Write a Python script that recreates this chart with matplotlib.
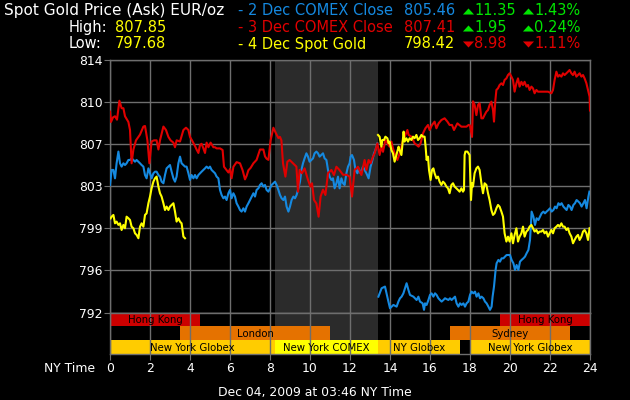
import matplotlib
matplotlib.use("Agg")
import numpy as np
import matplotlib.pyplot as plt
from matplotlib.lines import Line2D

plt.rcParams["font.family"] = ["DejaVu Sans"]

# ── data ─────────────────────────────────────────────────────────────────────
# 2 Dec COMEX close (blue) – two pieces, gap at the COMEX close
blue_h1 = [0.0, 0.08, 0.17, 0.25, 0.33, 0.42, 0.5, 0.58, 0.67, 0.75, 0.83, 0.92, 1.0, 1.08, 1.17,
           1.25, 1.33, 1.42, 1.5, 1.58, 1.67, 1.75, 1.83, 1.92, 2.0, 2.08, 2.17, 2.25, 2.33, 2.42,
           2.5, 2.58, 2.67, 2.75, 2.83, 2.92, 3.0, 3.08, 3.17, 3.25, 3.33, 3.42, 3.5, 3.58, 3.67,
           3.75, 3.83, 3.92, 4.0, 4.08, 4.17, 4.25, 4.33, 4.42, 4.5, 4.58, 4.67, 4.75, 4.83, 4.92,
           5.0, 5.08, 5.17, 5.25, 5.33, 5.42, 5.5, 5.58, 5.67, 5.75, 5.83, 5.92, 6.0, 6.08, 6.17,
           6.25, 6.33, 6.42, 6.5, 6.58, 6.67, 6.75, 6.83, 6.92, 7.0, 7.08, 7.17, 7.25, 7.33, 7.42,
           7.5, 7.58, 7.67, 7.75, 7.83, 7.92, 8.0, 8.08, 8.17, 8.25, 8.33, 8.42, 8.5, 8.58, 8.67,
           8.75, 8.83, 8.92, 9.0, 9.08, 9.17, 9.25, 9.33, 9.42, 9.5, 9.57, 9.65, 9.73, 9.82, 9.9,
           9.98, 10.07, 10.15, 10.23, 10.32, 10.4, 10.48, 10.57, 10.65, 10.73, 10.82, 10.9, 10.98,
           11.07, 11.15, 11.23, 11.32, 11.4, 11.48, 11.57, 11.65, 11.73, 11.82, 11.9, 11.98, 12.03,
           12.1, 12.2, 12.27, 12.37, 12.43, 12.53, 12.65, 12.73, 12.82, 12.93, 13.03, 13.1, 13.2,
           13.27, 13.37]
blue_v1 = [803.11, 804.42, 804.42, 803.69, 805.0, 806.02, 805.0, 804.71, 805.0, 804.85, 805.0,
           805.29, 805.29, 805.43, 805.29, 805.14, 805.29, 805.14, 805.0, 804.85, 804.71, 803.98,
           803.69, 804.56, 804.13, 803.69, 804.13, 804.27, 804.27, 803.98, 803.84, 803.4, 803.26,
           803.98, 804.56, 804.71, 804.85, 804.27, 803.69, 803.4, 803.84, 805.0, 805.58, 805.0,
           804.85, 804.71, 804.71, 804.13, 803.55, 803.98, 803.69, 803.98, 803.69, 803.98, 804.13,
           804.27, 804.42, 804.56, 804.71, 804.56, 804.71, 804.42, 804.27, 804.13, 803.84, 803.69,
           802.68, 802.24, 801.95, 802.1, 801.8, 802.39, 802.68, 801.95, 802.39, 802.1, 801.52,
           801.23, 800.93, 800.79, 801.08, 800.79, 801.23, 801.52, 801.8, 802.1, 802.39, 802.1,
           802.68, 802.82, 803.11, 803.26, 802.97, 803.11, 802.68, 802.53, 802.82, 803.11, 803.26,
           803.4, 803.11, 802.68, 802.24, 801.95, 801.8, 802.1, 801.23, 800.79, 801.23, 801.8,
           802.1, 801.95, 802.24, 802.82, 803.4, 804.42, 805.0, 805.43, 805.87, 805.58, 805.14,
           805.29, 805.43, 805.87, 806.02, 805.87, 805.58, 805.73, 805.87, 805.43, 805.29, 804.42,
           803.84, 803.55, 803.69, 802.82, 803.26, 803.84, 802.82, 803.69, 803.26, 803.11, 804.13,
           804.71, 805.0, 805.58, 805.72, 805.29, 804.42, 804.13, 804.56, 804.13, 804.71, 804.42,
           804.13, 803.69, 804.71, 805.14, 805.87, 806.16, 806.74]
blue_h2 = [13.42, 13.58, 13.75, 13.92, 14.0, 14.17, 14.33, 14.42, 14.5, 14.58, 14.67, 14.75, 14.83,
           14.92, 15.0, 15.17, 15.33, 15.42, 15.5, 15.63, 15.7, 15.75, 15.83, 15.92, 16.0, 16.08,
           16.17, 16.25, 16.33, 16.42, 16.5, 16.58, 16.67, 16.75, 16.92, 17.0, 17.08, 17.17, 17.25,
           17.33, 17.42, 17.5, 17.58, 17.67, 17.75, 17.83, 17.92, 18.0, 18.08, 18.17, 18.25, 18.33,
           18.42, 18.5, 18.58, 18.67, 18.75, 18.83, 18.92, 19.0, 19.08, 19.13, 19.2, 19.28, 19.33,
           19.42, 19.5, 19.58, 19.67, 19.75, 19.83, 19.92, 20.0, 20.08, 20.17, 20.25, 20.33, 20.42,
           20.5, 20.58, 20.67, 20.75, 20.83, 20.92, 21.0, 21.05, 21.08, 21.17, 21.25, 21.33, 21.42,
           21.5, 21.58, 21.67, 21.75, 21.83, 21.92, 22.0, 22.08, 22.17, 22.25, 22.33, 22.42, 22.5,
           22.58, 22.67, 22.75, 22.83, 22.92, 23.0, 23.08, 23.17, 23.25, 23.33, 23.42, 23.5, 23.58,
           23.67, 23.75, 23.83, 23.92, 23.97]
blue_v2 = [793.38, 794.11, 794.26, 792.95, 792.37, 792.66, 792.51, 792.95, 793.24, 793.38, 793.67,
           794.11, 794.55, 793.97, 793.53, 793.38, 793.09, 793.38, 792.95, 792.8, 792.23, 792.8,
           792.66, 793.09, 793.53, 793.67, 793.38, 793.67, 793.53, 793.24, 793.09, 792.95, 793.09,
           793.24, 793.09, 793.24, 793.09, 793.24, 793.38, 792.8, 792.51, 792.8, 792.66, 792.8,
           792.51, 792.8, 792.95, 793.53, 793.82, 793.67, 793.82, 793.38, 793.67, 793.24, 793.38,
           793.24, 792.95, 792.8, 792.51, 792.23, 792.51, 793.38, 794.26, 795.71, 796.29, 796.58,
           796.43, 796.72, 796.72, 796.87, 797.01, 797.01, 797.01, 796.58, 796.29, 795.71, 796.14,
           795.71, 796.43, 796.58, 796.72, 796.87, 797.16, 797.45, 798.32, 799.77, 800.79, 800.35,
           799.63, 800.21, 800.06, 800.35, 800.64, 800.79, 800.64, 800.79, 800.93, 801.08, 800.79,
           800.93, 801.23, 801.08, 801.52, 801.37, 801.52, 801.23, 801.08, 800.93, 801.37, 801.23,
           800.93, 801.37, 801.52, 801.8, 801.66, 801.52, 801.23, 801.52, 801.8, 801.08, 802.1,
           802.53]

# 3 Dec COMEX close (red)
red_h = [0.0, 0.05, 0.15, 0.25, 0.35, 0.47, 0.58, 0.67, 0.75, 0.92, 1.0, 1.08, 1.17, 1.3, 1.5,
         1.67, 1.75, 1.87, 1.97, 2.08, 2.2, 2.33, 2.42, 2.5, 2.67, 2.8, 2.92, 3.03, 3.17, 3.25,
         3.33, 3.5, 3.67, 3.8, 3.92, 4.0, 4.13, 4.25, 4.33, 4.42, 4.5, 4.58, 4.67, 4.75, 4.83,
         4.92, 5.03, 5.17, 5.25, 5.33, 5.5, 5.63, 5.7, 5.83, 5.92, 6.0, 6.08, 6.17, 6.33, 6.5,
         6.63, 6.75, 6.83, 6.92, 7.03, 7.17, 7.33, 7.5, 7.67, 7.75, 7.83, 7.92, 8.03, 8.17, 8.3,
         8.42, 8.5, 8.57, 8.65, 8.77, 8.87, 8.98, 9.15, 9.32, 9.4, 9.48, 9.6, 9.73, 9.9, 10.02,
         10.1, 10.2, 10.32, 10.43, 10.53, 10.65, 10.77, 10.9, 11.07, 11.2, 11.32, 11.48, 11.65,
         11.82, 11.98, 12.1, 12.23, 12.4, 12.57, 12.73, 12.82, 12.93, 13.03, 13.15, 13.23, 13.37,
         13.48, 13.57, 13.65, 13.77, 13.87, 13.98, 14.07, 14.15, 14.23, 14.37, 14.43, 14.53,
         14.65, 14.77, 14.87, 14.93, 15.07, 15.23, 15.43, 15.53, 15.65, 15.77, 15.9, 15.98, 16.1,
         16.23, 16.32, 16.43, 16.57, 16.73, 16.87, 16.98, 17.1, 17.2, 17.37, 17.57, 17.82, 17.93,
         18.0, 18.1, 18.15, 18.23, 18.32, 18.4, 18.48, 18.57, 18.65, 18.73, 18.82, 18.9, 18.98,
         19.07, 19.15, 19.2, 19.27, 19.32, 19.4, 19.48, 19.57, 19.65, 19.73, 19.82, 19.9, 19.98,
         20.07, 20.15, 20.23, 20.32, 20.4, 20.48, 20.57, 20.65, 20.73, 20.82, 20.9, 20.98, 21.07,
         21.15, 21.23, 21.32, 21.4, 21.57, 21.73, 21.9, 22.07, 22.15, 22.23, 22.32, 22.4, 22.48,
         22.57, 22.65, 22.73, 22.82, 22.9, 22.98, 23.07, 23.15, 23.23, 23.32, 23.4, 23.48, 23.57,
         23.65, 23.73, 23.82, 23.9, 23.98, 24.0]
red_v = [809.5, 808.6, 809.0, 809.1, 808.8, 810.45, 809.8, 809.8, 809.1, 808.6, 807.9, 805.0,
         806.2, 807.0, 807.5, 808.2, 808.25, 807.0, 805.0, 806.9, 807.0, 807.0, 806.2, 807.0,
         808.2, 807.9, 807.3, 807.0, 806.8, 806.4, 807.0, 806.9, 807.9, 808.1, 807.9, 807.3,
         806.9, 806.5, 806.2, 805.9, 806.6, 806.7, 806.3, 805.9, 806.8, 806.4, 806.8, 806.4,
         806.4, 806.3, 806.3, 806.16, 804.7, 804.4, 804.2, 804.5, 803.7, 804.7, 805.1, 805.0,
         804.4, 803.6, 803.9, 804.4, 804.6, 805.0, 805.3, 806.2, 806.2, 805.6, 805.4, 805.3,
         807.0, 808.1, 807.6, 807.2, 807.3, 807.0, 805.0, 803.84, 805.14, 805.29, 805.0, 804.71,
         802.53, 804.42, 804.13, 804.56, 803.55, 802.97, 803.26, 801.8, 801.5, 800.35, 802.1,
         802.7, 802.24, 804.13, 804.42, 803.98, 804.7, 804.4, 804.0, 804.0, 803.84, 802.1,
         804.42, 804.7, 803.98, 805.29, 804.42, 805.29, 805.0, 805.58, 805.87, 806.74, 805.72,
         806.45, 806.0, 807.03, 806.74, 806.45, 806.89, 806.3, 805.87, 805.29, 805.58, 806.16,
         807.03, 807.47, 807.9, 807.47, 807.32, 806.74, 806.45, 806.74, 807.61, 808.05, 808.34,
         807.9, 808.34, 808.63, 808.05, 808.48, 808.77, 808.92, 808.63, 808.34, 808.34, 807.9,
         808.48, 808.19, 808.19, 808.34, 808.3, 807.3, 810.4, 810.1, 809.2, 810.08, 810.23,
         808.92, 808.92, 809.21, 809.5, 809.64, 810.08, 810.37, 809.64, 808.63, 810.52, 811.39,
         811.53, 811.82, 811.97, 811.82, 812.26, 812.4, 812.69, 812.84, 812.55, 812.26, 811.24,
         811.97, 812.4, 811.68, 812.1, 811.82, 812.1, 811.68, 811.82, 811.39, 811.68, 811.53,
         811.1, 811.39, 811.24, 811.24, 811.24, 811.24, 811.1, 811.39, 812.26, 812.98, 812.55,
         812.69, 812.55, 812.84, 812.69, 812.84, 812.98, 813.13, 812.84, 812.69, 812.98, 812.55,
         812.69, 812.84, 812.55, 812.69, 812.4, 811.97, 811.39, 810.8, 809.6]

# 4 Dec spot gold (yellow) – two pieces
yellow_h1 = [0.03, 0.08, 0.17, 0.25, 0.33, 0.42, 0.5, 0.58, 0.67, 0.75, 0.83, 0.92, 1.0, 1.08,
             1.17, 1.25, 1.33, 1.42, 1.5, 1.58, 1.67, 1.75, 1.83, 1.92, 2.0, 2.08, 2.17, 2.25,
             2.33, 2.42, 2.5, 2.58, 2.67, 2.75, 2.83, 2.92, 3.0, 3.08, 3.17, 3.25, 3.33, 3.42,
             3.5, 3.58, 3.67, 3.75]
yellow_v1 = [800.2, 800.35, 800.5, 799.77, 799.92, 799.63, 799.77, 799.19, 799.63, 799.34,
             800.35, 800.21, 800.06, 799.48, 799.34, 798.9, 798.76, 798.47, 799.48, 799.77,
             799.48, 800.5, 800.64, 801.52, 802.1, 802.82, 803.4, 803.69, 803.84, 802.97, 802.39,
             802.1, 801.52, 800.93, 801.23, 800.93, 801.23, 801.37, 801.52, 800.79, 799.92, 800.21,
             799.92, 799.77, 798.61, 798.47]
yellow_h2 = [13.4, 13.48, 13.57, 13.62, 13.7, 13.77, 13.87, 13.93, 13.98, 14.07, 14.15, 14.23,
             14.32, 14.37, 14.43, 14.48, 14.57, 14.62, 14.68, 14.73, 14.82, 14.9, 14.98, 15.07,
             15.15, 15.23, 15.32, 15.4, 15.48, 15.57, 15.65, 15.73, 15.78, 15.83, 15.9, 15.95,
             16.03, 16.1, 16.17, 16.23, 16.32, 16.4, 16.48, 16.57, 16.65, 16.73, 16.82, 16.9,
             16.98, 17.07, 17.15, 17.23, 17.32, 17.4, 17.48, 17.57, 17.65, 17.7, 17.73, 17.77,
             17.87, 17.98, 18.05, 18.1, 18.15, 18.23, 18.32, 18.4, 18.48, 18.57, 18.65, 18.73,
             18.82, 18.9, 18.98, 19.07, 19.15, 19.23, 19.32, 19.4, 19.48, 19.57, 19.65, 19.73,
             19.82, 19.9, 19.98, 20.07, 20.15, 20.23, 20.32, 20.4, 20.48, 20.57, 20.65, 20.73,
             20.82, 20.9, 20.98, 21.07, 21.15, 21.23, 21.32, 21.4, 21.48, 21.57, 21.65, 21.73,
             21.82, 21.9, 21.98, 22.07, 22.15, 22.23, 22.32, 22.4, 22.48, 22.57, 22.65, 22.73,
             22.82, 22.9, 22.98, 23.07, 23.15, 23.23, 23.32, 23.4, 23.48, 23.57, 23.65, 23.73,
             23.82, 23.9, 23.98]
yellow_v2 = [807.47, 807.32, 806.45, 807.03, 807.03, 807.32, 807.18, 806.74, 806.89, 806.16,
             805.87, 805.14, 805.72, 806.02, 806.45, 806.16, 805.72, 806.6, 807.76, 806.89,
             807.18, 806.89, 807.18, 807.03, 807.32, 807.18, 807.47, 807.03, 807.18, 807.47,
             807.32, 807.32, 806.45, 805.29, 805.58, 804.42, 803.55, 804.42, 804.56, 804.13,
             803.69, 803.84, 803.4, 803.11, 803.4, 803.26, 802.97, 802.82, 802.39, 803.11, 803.26,
             802.97, 802.82, 802.68, 802.53, 802.82, 802.53, 802.68, 805.72, 806.02, 806.02,
             805.72, 801.8, 803.26, 802.97, 804.13, 804.56, 804.71, 804.42, 803.26, 802.39,
             803.26, 803.11, 802.39, 801.8, 800.93, 800.5, 800.64, 801.08, 801.37, 801.22, 800.79,
             800.35, 798.9, 798.18, 798.61, 798.18, 798.9, 798.03, 798.76, 799.34, 798.18, 798.61,
             798.9, 799.48, 798.61, 799.05, 799.19, 799.48, 799.63, 799.34, 799.05, 799.19, 798.9,
             799.05, 799.05, 799.19, 798.9, 799.05, 798.61, 798.9, 799.19, 798.9, 799.34, 799.48,
             799.63, 799.48, 799.77, 799.48, 799.48, 799.19, 799.34, 798.9, 798.61, 798.03,
             798.32, 798.61, 798.76, 798.32, 798.61, 799.05, 799.19, 798.9, 798.32, 799.34]

# header
series_names  = ["- 2 Dec COMEX Close", "- 3 Dec COMEX Close", "- 4 Dec Spot Gold"]
series_close  = [805.46, 807.41, 798.42]
series_change = [11.35, 1.95, -8.98]
series_pct    = [1.43, 0.24, -1.11]
day_high, day_low = 807.85, 797.68

# trading sessions: name, start, end, row (0 = bottom), colour
sessions = [
    ("Hong Kong", 0.0, 4.5, 2, "#cc0000"),
    ("Hong Kong", 19.5, 24.0, 2, "#cc0000"),
    ("London", 3.5, 11.0, 1, "#e57200"),
    ("Sydney", 17.0, 23.0, 1, "#e57200"),
    ("New York Globex", 0.0, 8.25, 0, "#ffcc00"),
    ("New York COMEX", 8.25, 13.38, 0, "#ffff00"),
    ("NY Globex", 13.38, 17.5, 0, "#ffcc00"),
    ("New York Globex", 18.0, 24.0, 0, "#ffcc00"),
]
comex_open, comex_close = 8.25, 13.38

# ── styling ──────────────────────────────────────────────────────────────────
W, H = 630, 400
BLUE, RED, YEL, GRN = "#1589e0", "#e00000", "#ffff00", "#00e600"
GRID = "#6e6e6e"
SHADE = "#2b2b2b"

def fx(x): return x / W
def fy(y): return 1 - y / H

fig = plt.figure(figsize=(6.3, 4.0), dpi=100, facecolor="black")
ax = fig.add_axes([fx(110), fy(312.5), (590 - 110) / W, (312.5 - 60) / H], facecolor="black")
bx = fig.add_axes([fx(110), fy(354), (590 - 110) / W, (354 - 312.5) / H], facecolor="black")

# ── price panel ──────────────────────────────────────────────────────────────
ax.axvspan(comex_open, comex_close, color=SHADE, zorder=0, lw=0)
ax.plot(blue_h1, blue_v1, color=BLUE, lw=1.5, zorder=3)
ax.plot(blue_h2, blue_v2, color=BLUE, lw=1.5, zorder=3)
ax.plot(red_h, red_v, color=RED, lw=1.5, zorder=4)
ax.plot(yellow_h1, yellow_v1, color=YEL, lw=1.5, zorder=5)
ax.plot(yellow_h2, yellow_v2, color=YEL, lw=1.5, zorder=5)

yt = np.linspace(792, 814, 7)
ax.set_xlim(0, 24); ax.set_ylim(792, 814)
ax.set_xticks(range(0, 25, 2)); ax.set_yticks(yt)
ax.set_yticklabels([f"{t:.0f}" for t in yt])
ax.tick_params(axis="x", length=0, labelbottom=False)
ax.tick_params(axis="y", length=4, color=GRID, labelcolor="white", labelsize=8.9, pad=1.5)
ax.grid(True, color=GRID, lw=1)
ax.set_axisbelow(True)
for s in ax.spines.values():
    s.set_color(GRID); s.set_linewidth(1)

# ── session bands ────────────────────────────────────────────────────────────
bx.axvspan(comex_open, comex_close, color=SHADE, zorder=0, lw=0)
for name, a, b, row, col in sessions:
    bx.broken_barh([(a, b - a)], (row, 1), facecolors=col, lw=0, zorder=1)
    bx.text((a + b) / 2, row + 0.45, name, ha="center", va="center",
            fontsize=7.3, color="black", zorder=4)
bx.set_xlim(0, 24); bx.set_ylim(0, 3)
bx.set_xticks(range(0, 25, 2)); bx.set_yticks([])
bx.tick_params(axis="x", length=4, color=GRID, labelcolor="white", labelsize=8.9, pad=2)
bx.grid(True, axis="x", color=GRID, lw=1, zorder=2)
bx.set_axisbelow(False)
for s in bx.spines.values():
    s.set_color(GRID); s.set_linewidth(1)

# ── texts ────────────────────────────────────────────────────────────────────
fs = 10.5
fig.text(fx(4), fy(15), "Spot Gold Price (Ask) EUR/oz", color="white", fontsize=11, va="baseline")
fig.text(fx(69), fy(32), "High:", color="white", fontsize=fs, va="baseline")
fig.text(fx(115), fy(32), f"{day_high:.2f}", color=YEL, fontsize=fs, va="baseline")
fig.text(fx(69), fy(48.5), "Low:", color="white", fontsize=fs, va="baseline")
fig.text(fx(115), fy(48.5), f"{day_low:.2f}", color=YEL, fontsize=fs, va="baseline")

TRI_UP = [(-5.5, -3), (5.5, -3), (0, 3)]
TRI_DN = [(-5.5, 3), (5.5, 3), (0, -3)]

def triangle(x, y, up, col):
    fig.add_artist(Line2D([fx(x)], [fy(y)], transform=fig.transFigure, ls="none",
                          marker=TRI_UP if up else TRI_DN, markersize=8,
                          markerfacecolor=col, markeredgewidth=0))

for i, (nm, cl, ch, pc) in enumerate(zip(series_names, series_close, series_change, series_pct)):
    yb = [15, 32, 48.5][i]
    col = [BLUE, RED, YEL][i]
    up = ch >= 0
    ccol = GRN if up else RED
    fig.text(fx(238), fy(yb), nm, color=col, fontsize=fs, va="baseline")
    fig.text(fx(404), fy(yb), f"{cl:.2f}", color=col, fontsize=fs, va="baseline")
    triangle(468, yb - 4.5, up, ccol)
    fig.text(fx(474), fy(yb), f"{abs(ch):.2f}", color=ccol, fontsize=fs, va="baseline")
    triangle(528, yb - 4.5, up, ccol)
    fig.text(fx(534), fy(yb), f"{abs(pc):.2f}%", color=ccol, fontsize=fs, va="baseline")

fig.text(fx(95), fy(372), "NY Time", color="white", fontsize=8.9, ha="right", va="baseline")
fig.text(fx(315), fy(396), "Dec 04, 2009 at 03:46 NY Time", color="white", fontsize=8.9,
         ha="center", va="baseline")

fig.savefig("out.png", dpi=100, facecolor="black")
